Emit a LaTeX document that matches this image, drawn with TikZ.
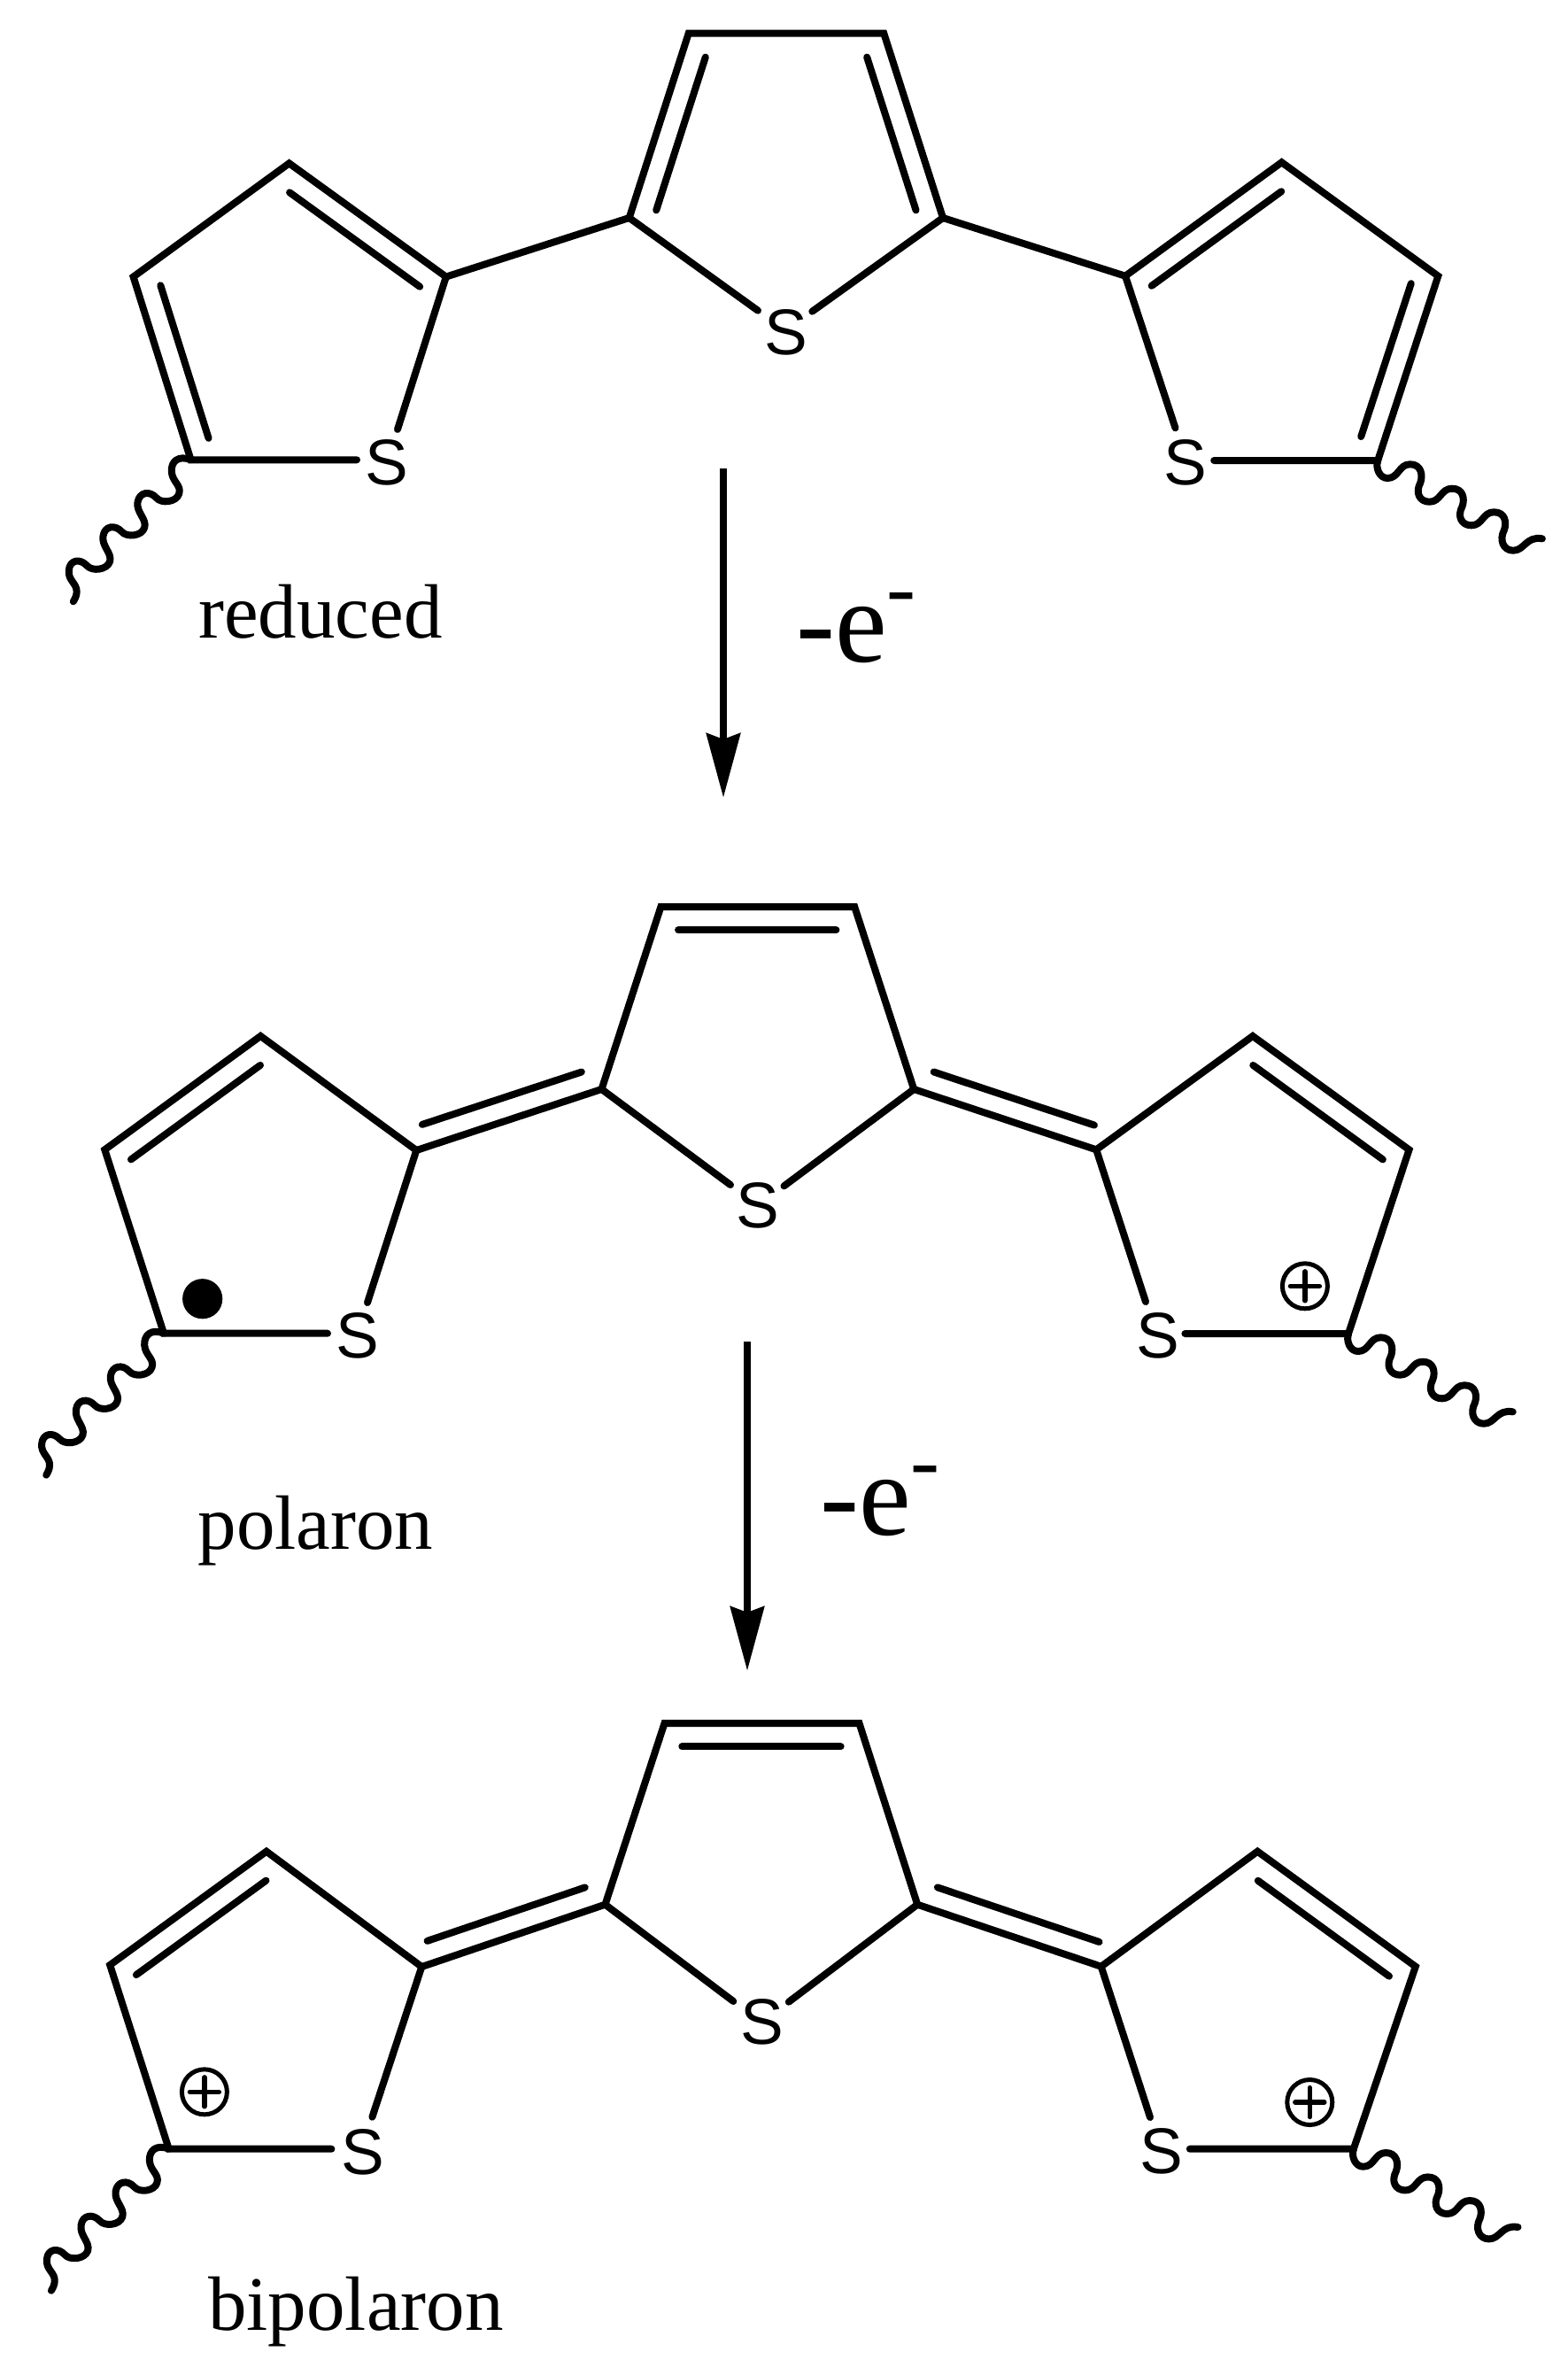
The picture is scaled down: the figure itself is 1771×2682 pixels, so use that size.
\documentclass[tikz,border=0pt]{standalone}
\usepackage{fontspec}
\setmainfont{Liberation Serif}
\newfontfamily\atomfont{Liberation Sans}
\usetikzlibrary{calc,arrows.meta}
\tikzset{
  bond/.style={line width=4pt,line cap=round,line join=miter,miter limit=10},
  wave/.style={line width=4pt,line cap=round,line join=round},
  reaction/.style={line width=4pt,line cap=butt,-{Stealth[length=36.2pt,width=19pt,inset=3.3pt]}},
  atom/.style={inner sep=0pt,font=\atomfont\fontsize{36.5}{40}\selectfont},
  label/.style={inner sep=0pt,anchor=base,font=\fontsize{43.5}{50}\selectfont},
  bigtext/.style={inner sep=0pt,anchor=base west,font=\fontsize{66}{70}\selectfont},
  radical/.style={circle,fill=black,inner sep=0pt,minimum size=22.6pt},
  chargering/.style={circle,draw=black,line width=2.5pt,inner sep=0pt,minimum size=25.5pt},
  chargeplus/.style={line width=2.8pt,line cap=round},
}
\newcommand{\dbl}[5]{\draw[bond] ($(#1)!#3!(#2)!#5!90:(#2)$) -- ($(#1)!#4!(#2)!#5!90:(#2)$);}
\newcommand{\chargemark}[2]{%
  \node[chargering] (#1) at (#2) {};
  \draw[chargeplus] ($(#1)+(-8.2pt,0)$) -- ($(#1)+(8.2pt,0)$);
  \draw[chargeplus] ($(#1)+(0,-8.2pt)$) -- ($(#1)+(0,8.2pt)$);
}
\newcommand{\eminus}{-e\raisebox{25.5pt}{\fontsize{49.5}{50}\selectfont -}}
\newcommand{\wavyL}[1]{\draw[wave,shift={(#1)}] (0,0)
  .. controls (-14.2,-5.7) and (-22.6,1.9) .. (-21.8,13.4)
  .. controls (-21,24.9) and (-10.3,28.7) .. (-13.4,38.3)
  .. controls (-16.1,47.8) and (-33.3,49.8) .. (-39,42.9)
  .. controls (-46.7,34.4) and (-58.2,36.4) .. (-60.1,47.8)
  .. controls (-62,59.3) and (-49.4,67) .. (-52.4,76.5)
  .. controls (-55.1,86.1) and (-72.3,88) .. (-78.1,81.1)
  .. controls (-85.8,72.7) and (-97.6,74.6) .. (-99.1,86.1)
  .. controls (-101,97.6) and (-88.8,105.2) .. (-91.5,114.8)
  .. controls (-94.5,124.4) and (-111.7,126.3) .. (-117.5,119.4)
  .. controls (-125.2,111) and (-136.7,112.9) .. (-137.8,124.4)
  .. controls (-139.4,135.9) and (-128.2,139.7) .. (-129,149.3)
  .. controls (-129,153.1) and (-130.9,156.9) .. (-132.8,160);}
\newcommand{\wavyR}[1]{\draw[wave,shift={(#1)}] (0,0)
  .. controls (-2.9,8.3) and (1.8,20) .. (10.9,20)
  .. controls (23.7,20) and (23.7,4.3) .. (36.4,4.3)
  .. controls (49.2,4.3) and (51,16.7) .. (48.1,25)
  .. controls (41.9,36.7) and (47.3,46.7) .. (58.3,46.7)
  .. controls (71,46.7) and (71,31.7) .. (83.8,31.7)
  .. controls (96.5,31.7) and (98.3,43.3) .. (95.4,51.7)
  .. controls (89.2,63.3) and (94.7,73.3) .. (105.6,73.3)
  .. controls (118.4,73.3) and (118.4,58.3) .. (131.1,58.3)
  .. controls (143.9,58.3) and (145.7,70) .. (142.8,78.3)
  .. controls (136.6,90) and (142,101.7) .. (152.9,101.7)
  .. controls (165.6,101.7) and (167.5,85) .. (185.7,88.3);}
\begin{document}
\begin{tikzpicture}[x=0.5pt,y=-0.5pt]
\useasboundingbox (0,0) rectangle (1771,2682);

% ---------- reduced ----------
\coordinate (Aa) at (326.6,184.4);
\coordinate (Ab) at (150.6,312.6);
\coordinate (Ac) at (215.6,519.3);
\coordinate (Ad) at (503.8,312.6);
\coordinate (Ae) at (403,519.3);
\coordinate (Af) at (449,484.9);
\node[atom] (As) at (436.8,522) {S};
\draw[bond] (Ae) -- (Ac) -- (Ab) -- (Aa) -- (Ad) -- (Af);
\dbl{Ab}{Ac}{.085}{.92}{13.2pt}
\dbl{Ad}{Aa}{.08}{.91}{13.2pt}
\wavyL{Ac}

\coordinate (Ag) at (710.7,246);
\coordinate (Ah) at (777.7,37.7);
\coordinate (Ai) at (998.3,37.7);
\coordinate (Aj) at (1065,246);
\coordinate (Ak) at (856,350.7);
\coordinate (Al) at (917.3,351.7);
\node[atom] (At) at (888.3,375) {S};
\draw[bond] (Ak) -- (Ag) -- (Ah) -- (Ai) -- (Aj) -- (Al);
\dbl{Ah}{Ag}{.09}{.92}{13.2pt}
\dbl{Aj}{Ai}{.08}{.91}{13.2pt}
\draw[bond] (Ad) -- (Ag);
\draw[bond] (Aj) -- (1271,311.7) coordinate (Am);

\coordinate (An) at (1447.6,183.3);
\coordinate (Ao) at (1624.3,311.7);
\coordinate (Ap) at (1556.2,520);
\coordinate (Aq) at (1371.2,520);
\coordinate (Ar) at (1327.5,483.3);
\node[atom] (Au) at (1339,522) {S};
\draw[bond] (Aq) -- (Ap) -- (Ao) -- (An) -- (Am) -- (Ar);
\dbl{An}{Am}{.09}{.92}{13.2pt}
\dbl{Ap}{Ao}{.09}{.92}{13.2pt}
\wavyR{Ap}
\node[label] (Alabel) at (362,720) {reduced};

% ---------- arrow 1 ----------
\coordinate (Ar1) at (817,529);
\coordinate (Ar2) at (817,900.7);
\draw[reaction] (Ar1) -- (Ar2);
\node[bigtext] (Ae1) at (899,747.3) {\eminus};

% ---------- polaron ----------
\coordinate (Ba) at (294.3,1170);
\coordinate (Bb) at (118.3,1298.3);
\coordinate (Bc) at (185,1505.7);
\coordinate (Bd) at (470.3,1299);
\coordinate (Be) at (370,1505.7);
\coordinate (Bf) at (415,1471);
\node[atom] (Bs) at (404,1508.3) {S};
\draw[bond] (Be) -- (Bc) -- (Bb) -- (Ba) -- (Bd) -- (Bf);
\dbl{Ba}{Bb}{.09}{.92}{13.2pt}
\wavyL{Bc}
\node[radical] (Bdot) at (228.7,1466.7) {};

\coordinate (Bg) at (679.5,1230);
\coordinate (Bh) at (746.4,1024);
\coordinate (Bi) at (965.2,1024);
\coordinate (Bj) at (1032.2,1230);
\coordinate (Bk) at (825,1338);
\coordinate (Bl) at (885.5,1339.3);
\node[atom] (Bt) at (856,1361.7) {S};
\draw[bond] (Bk) -- (Bg) -- (Bh) -- (Bi) -- (Bj) -- (Bl);
\dbl{Bi}{Bh}{.095}{.91}{13.2pt}
\draw[bond] (Bd) -- (Bg);
\dbl{Bd}{Bg}{.07}{.93}{12.8pt}

\coordinate (Bm) at (1238.2,1298.3);
\coordinate (Bn) at (1414.9,1170);
\coordinate (Bo) at (1591.5,1298.3);
\coordinate (Bp) at (1523,1506);
\coordinate (Bq) at (1338.4,1506);
\coordinate (Br) at (1294,1470);
\node[atom] (Bu) at (1307.4,1508.3) {S};
\draw[bond] (Bq) -- (Bp) -- (Bo) -- (Bn) -- (Bm) -- (Br);
\draw[bond] (Bj) -- (Bm);
\dbl{Bj}{Bm}{.07}{.95}{12.8pt}
\dbl{Bo}{Bn}{.08}{.91}{13.2pt}
\wavyR{Bp}
\chargemark{Bplus}{1473.9,1452.3}
\node[label] (Blabel) at (356.5,1749) {polaron};

% ---------- arrow 2 ----------
\coordinate (Br1) at (844,1515);
\coordinate (Br2) at (844,1886.7);
\draw[reaction] (Br1) -- (Br2);
\node[bigtext] (Be1) at (926,1733.3) {\eminus};

% ---------- bipolaron ----------
\coordinate (Ca) at (300.9,2090.7);
\coordinate (Cb) at (124.2,2219);
\coordinate (Cc) at (190.7,2426.7);
\coordinate (Cd) at (476.3,2221);
\coordinate (Ce) at (374.4,2426.7);
\coordinate (Cf) at (420.4,2390.7);
\node[atom] (Cs) at (410,2430) {S};
\draw[bond] (Ce) -- (Cc) -- (Cb) -- (Ca) -- (Cd) -- (Cf);
\dbl{Ca}{Cb}{.09}{.92}{13.2pt}
\wavyL{Cc}
\chargemark{Cplusa}{230.9,2362.3}

\coordinate (Cg) at (683.5,2150.7);
\coordinate (Ch) at (750.5,1946);
\coordinate (Ci) at (970.5,1946);
\coordinate (Cj) at (1036.2,2150.7);
\coordinate (Ck) at (828.3,2260);
\coordinate (Cl) at (890.8,2260.7);
\node[atom] (Ct) at (860.8,2283.3) {S};
\draw[bond] (Ck) -- (Cg) -- (Ch) -- (Ci) -- (Cj) -- (Cl);
\dbl{Ci}{Ch}{.095}{.91}{13.2pt}
\draw[bond] (Cd) -- (Cg);
\dbl{Cd}{Cg}{.07}{.93}{12.8pt}

\coordinate (Cm) at (1243.7,2220.7);
\coordinate (Cn) at (1420.3,2090.7);
\coordinate (Co) at (1598.8,2220.7);
\coordinate (Cp) at (1528.8,2426.7);
\coordinate (Cq) at (1343.8,2426.7);
\coordinate (Cr) at (1299,2391);
\node[atom] (Cu) at (1311.8,2429.3) {S};
\draw[bond] (Cq) -- (Cp) -- (Co) -- (Cn) -- (Cm) -- (Cr);
\draw[bond] (Cj) -- (Cm);
\dbl{Cj}{Cm}{.07}{.95}{12.8pt}
\dbl{Co}{Cn}{.08}{.91}{13.2pt}
\wavyR{Cp}
\chargemark{Cplusb}{1479.3,2374}
\node[label] (Clabel) at (402,2631.7) {bipolaron};
\end{tikzpicture}
\end{document}
